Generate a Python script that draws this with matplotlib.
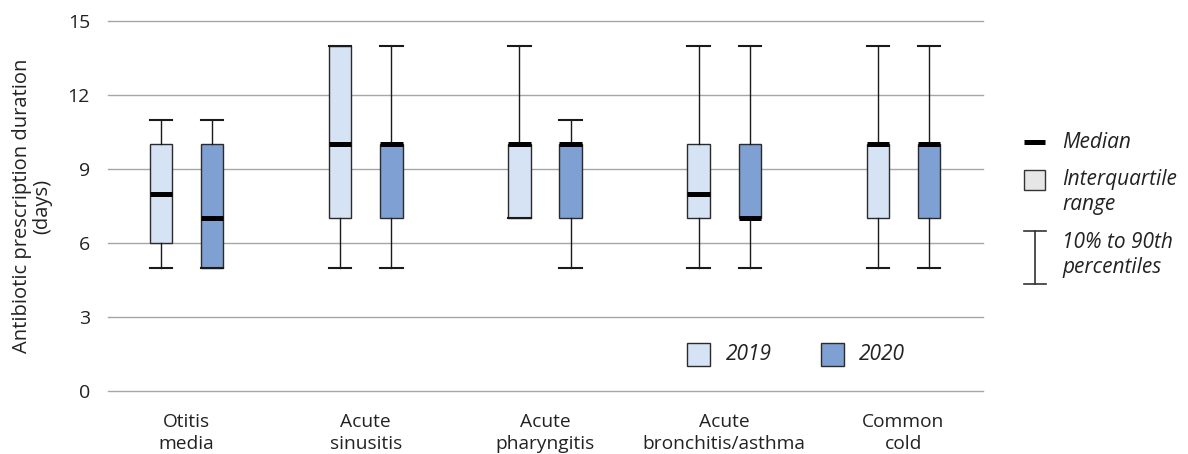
import matplotlib.pyplot as plt
from matplotlib.patches import Rectangle
from matplotlib.lines import Line2D

plt.rcParams['font.family'] = ['Open Sans', 'DejaVu Sans']

categories = ['Otitis\nmedia', 'Acute\nsinusitis', 'Acute\npharyngitis',
              'Acute\nbronchitis/asthma', 'Common\ncold']
years = ['2019', '2020']

# 10th pct, 25th pct, median, 75th pct, 90th pct
p10_2019 = [5, 5, 7, 5, 5]
q1_2019 = [6, 7, 7, 7, 7]
med_2019 = [8, 10, 10, 8, 10]
q3_2019 = [10, 14, 10, 10, 10]
p90_2019 = [11, 14, 14, 14, 14]

p10_2020 = [5, 5, 5, 5, 5]
q1_2020 = [5, 7, 7, 7, 7]
med_2020 = [7, 10, 10, 7, 10]
q3_2020 = [10, 10, 10, 10, 10]
p90_2020 = [11, 14, 11, 14, 14]

yticks = [0, 3, 6, 9, 12, 15]
colors = {'2019': '#d5e3f5', '2020': '#7ea0d3'}
edge = '#2b2b2b'

W, H = 1188, 454
fig = plt.figure(figsize=(W / 100, H / 100), dpi=100)
ax = fig.add_axes([108 / W, 1 - 391 / H, 875 / W, 370 / H])


def make_stats(p10, q1, med, q3, p90):
    return [dict(whislo=a, q1=b, med=c, q3=d, whishi=e, fliers=[])
            for a, b, c, d, e in zip(p10, q1, med, q3, p90)]


series = {
    '2019': make_stats(p10_2019, q1_2019, med_2019, q3_2019, p90_2019),
    '2020': make_stats(p10_2020, q1_2020, med_2020, q3_2020, p90_2020),
}
offsets = {'2019': -0.143, '2020': 0.143}
bw = 0.126

for yr in years:
    pos = [i + offsets[yr] for i in range(len(categories))]
    ax.bxp(series[yr], positions=pos, widths=bw, capwidths=bw,
           patch_artist=True, showfliers=False, manage_ticks=False,
           boxprops=dict(facecolor=colors[yr], edgecolor=edge, linewidth=1.0),
           whiskerprops=dict(color='#1a1a1a', linewidth=1.0),
           capprops=dict(color='#1a1a1a', linewidth=1.5),
           medianprops=dict(color='black', linewidth=3.6, solid_capstyle='butt'),
           zorder=3)

ax.set_xlim(-0.438, 4.444)
ax.set_ylim(0, 15)
ax.set_yticks(yticks)
ax.set_xticks(range(len(categories)))
ax.set_xticklabels(categories, fontsize=13.8, color='#222222', linespacing=1.3)
ax.tick_params(axis='y', length=0, pad=13, labelsize=14, labelcolor='#222222')
ax.tick_params(axis='x', length=0, pad=16)
ax.grid(axis='y', color='#a6a6a6', linewidth=1.0)
for gl in ax.get_ygridlines():
    gl.set_clip_on(False)
ax.set_axisbelow(True)
for s in ax.spines.values():
    s.set_visible(False)

fig.text(32 / W, 1 - 206 / H, 'Antibiotic prescription duration\n(days)',
         rotation=90, ha='center', va='center', fontsize=14.5,
         color='#222222', linespacing=1.0)

# year legend inside the plot
for yr, px, tx in [('2019', 687, 726), ('2020', 821, 859)]:
    fig.patches.append(Rectangle((px / W, 1 - 366 / H), 23 / W, 23 / H,
                                 transform=fig.transFigure, facecolor=colors[yr],
                                 edgecolor=edge, linewidth=1.0))
    fig.text(tx / W, 1 - 355 / H, yr, style='italic', fontsize=15,
             ha='left', va='center', color='#222222')

# key on the right
fig.lines.append(Line2D([1024 / W, 1045 / W], [1 - 142 / H, 1 - 142 / H],
                        transform=fig.transFigure, color='black', linewidth=3.6,
                        solid_capstyle='butt'))
fig.text(1062 / W, 1 - 142 / H, 'Median', style='italic', fontsize=15,
         ha='left', va='center', color='#222222')
fig.patches.append(Rectangle((1024 / W, 1 - 190 / H), 21 / W, 20 / H,
                             transform=fig.transFigure, facecolor='#e6e6e6',
                             edgecolor='#333333', linewidth=1.0))
fig.text(1062 / W, 1 - 192 / H, 'Interquartile\nrange', style='italic',
         fontsize=15, ha='left', va='center', color='#222222', linespacing=1.25)
for y in (231, 284):
    fig.lines.append(Line2D([1024 / W, 1046 / W], [1 - y / H, 1 - y / H],
                            transform=fig.transFigure, color='#333333', linewidth=1.2))
fig.lines.append(Line2D([1035 / W, 1035 / W], [1 - 231 / H, 1 - 284 / H],
                        transform=fig.transFigure, color='#333333', linewidth=1.2))
fig.text(1062 / W, 1 - 255 / H, '10% to 90th\npercentiles', style='italic',
         fontsize=15, ha='left', va='center', color='#222222', linespacing=1.3)

fig.savefig('out.png', dpi=100)
